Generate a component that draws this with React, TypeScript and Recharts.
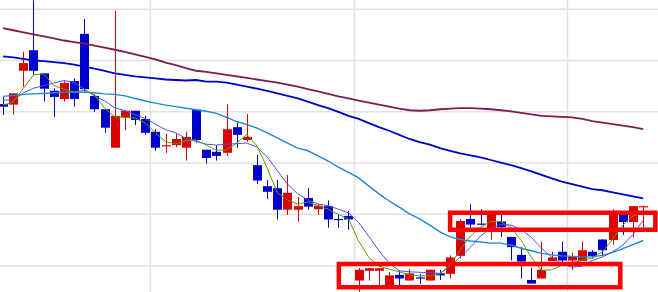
import React from 'react';
import { ComposedChart, Bar, Line, XAxis, YAxis, ReferenceLine, ReferenceArea } from 'recharts';

// 64 trading sessions
const days = [
  'd01','d02','d03','d04','d05','d06','d07','d08','d09','d10','d11','d12','d13','d14','d15','d16',
  'd17','d18','d19','d20','d21','d22','d23','d24','d25','d26','d27','d28','d29','d30','d31','d32',
  'd33','d34','d35','d36','d37','d38','d39','d40','d41','d42','d43','d44','d45','d46','d47','d48',
  'd49','d50','d51','d52','d53','d54','d55','d56','d57','d58','d59','d60','d61','d62','d63','d64',
];

const opens = [
  1815, 1814, 1880, 1920, 1875, 1841, 1825, 1860, 1952, 1831, 1805, 1730, 1789, 1802, 1786, 1761,
  1733, 1735, 1730, 1804, 1726, 1722, 1720, 1770, 1745, 1696, 1655, 1651, 1609, 1609, 1632, 1610,
  1616, 1591, 1597, 1471, 1490, 1490, 1459, 1482, 1471, 1477, 1471, 1485, 1484, 1519, 1591, 1582,
  1571, 1586, 1556, 1521, 1472, 1475, 1509, 1527, 1510, 1509, 1527, 1551, 1550, 1601, 1585, 1614,
];
const highs = [
  1829, 1836, 1917, 2017, 1875, 1846, 1860, 1865, 1981, 1834, 1805, 1997, 1803, 1802, 1792, 1766,
  1757, 1757, 1761, 1804, 1726, 1735, 1815, 1779, 1796, 1716, 1667, 1667, 1677, 1634, 1651, 1620,
  1627, 1599, 1607, 1495, 1495, 1495, 1488, 1490, 1493, 1484, 1492, 1492, 1520, 1591, 1620, 1610,
  1601, 1602, 1556, 1536, 1496, 1547, 1527, 1547, 1525, 1547, 1530, 1551, 1610, 1601, 1616, 1616,
];
const lows = [
  1794, 1794, 1849, 1872, 1820, 1790, 1820, 1810, 1839, 1800, 1759, 1730, 1764, 1774, 1755, 1724,
  1720, 1731, 1705, 1740, 1699, 1705, 1714, 1730, 1742, 1659, 1630, 1590, 1599, 1586, 1609, 1599,
  1574, 1574, 1570, 1449, 1471, 1460, 1459, 1460, 1471, 1464, 1471, 1472, 1475, 1514, 1574, 1579,
  1551, 1556, 1510, 1475, 1465, 1475, 1509, 1502, 1492, 1509, 1514, 1521, 1541, 1560, 1555, 1574,
];
const closes = [
  1810, 1836, 1895, 1880, 1845, 1829, 1856, 1825, 1844, 1805, 1769, 1792, 1802, 1784, 1759, 1730,
  1735, 1747, 1751, 1745, 1710, 1714, 1766, 1755, 1751, 1666, 1644, 1609, 1642, 1616, 1615, 1617,
  1590, 1589, 1590, 1492, 1495, 1495, 1481, 1475, 1485, 1475, 1492, 1481, 1516, 1587, 1580, 1580,
  1601, 1575, 1536, 1508, 1465, 1492, 1516, 1510, 1517, 1530, 1519, 1530, 1601, 1585, 1616, 1616,
];

// moving averages (short to long)
const ma5 = [
  1813, 1819, 1846, 1872, 1874, 1851, 1844, 1839, 1842, 1833, 1807, 1790, 1789, 1788, 1778, 1759,
  1742, 1737, 1744, 1745, 1735, 1725, 1726, 1739, 1756, 1733, 1690, 1642, 1628, 1620, 1624, 1617,
  1610, 1600, 1591, 1548, 1516, 1499, 1493, 1488, 1482, 1480, 1480, 1484, 1501, 1531, 1558, 1575,
  1586, 1586, 1574, 1549, 1516, 1490, 1492, 1501, 1506, 1510, 1515, 1527, 1552, 1579, 1597, 1603,
];
const ma10 = [
  1823, 1823, 1837, 1846, 1851, 1856, 1861, 1857, 1844, 1831, 1821, 1808, 1802, 1794, 1787, 1776,
  1765, 1759, 1748, 1742, 1737, 1735, 1737, 1738, 1739, 1731, 1712, 1685, 1659, 1640, 1628, 1620,
  1617, 1610, 1603, 1584, 1557, 1529, 1505, 1490, 1488, 1487, 1486, 1485, 1499, 1517, 1536, 1558,
  1573, 1581, 1579, 1570, 1555, 1534, 1516, 1503, 1497, 1499, 1510, 1517, 1527, 1540, 1561, 1588,
];
const ma25 = [
  1830, 1832, 1834, 1835, 1836, 1837, 1838, 1838, 1838, 1837, 1835, 1834, 1831, 1826, 1821, 1817,
  1813, 1810, 1807, 1804, 1801, 1797, 1789, 1781, 1775, 1768, 1759, 1749, 1739, 1729, 1724, 1714,
  1704, 1692, 1682, 1671, 1655, 1640, 1626, 1614, 1601, 1591, 1579, 1566, 1556, 1551, 1548, 1546,
  1544, 1544, 1540, 1534, 1529, 1524, 1521, 1519, 1518, 1517, 1517, 1520, 1526, 1533, 1541, 1549,
];
const ma75 = [
  1908, 1906, 1903, 1900, 1899, 1897, 1895, 1892, 1888, 1884, 1880, 1875, 1872, 1869, 1867, 1865,
  1863, 1862, 1861, 1862, 1859, 1859, 1857, 1853, 1849, 1845, 1841, 1836, 1831, 1826, 1820, 1813,
  1807, 1800, 1792, 1786, 1778, 1770, 1763, 1755, 1747, 1741, 1736, 1729, 1724, 1719, 1715, 1711,
  1706, 1701, 1696, 1690, 1684, 1677, 1670, 1664, 1659, 1654, 1649, 1647, 1643, 1639, 1635, 1631,
];
const ma200 = [
  1963, 1959, 1955, 1951, 1947, 1943, 1939, 1936, 1933, 1929, 1925, 1921, 1917, 1912, 1907, 1902,
  1896, 1891, 1885, 1880, 1878, 1875, 1872, 1869, 1866, 1863, 1860, 1857, 1853, 1849, 1844, 1840,
  1835, 1830, 1826, 1822, 1818, 1814, 1810, 1806, 1803, 1802, 1803, 1805, 1806, 1807, 1807, 1806,
  1805, 1803, 1801, 1798, 1795, 1792, 1791, 1790, 1789, 1786, 1782, 1779, 1776, 1773, 1770, 1766,
];

// horizontal grid prices and month separators (in session-index units)
const gridPrices = [2000, 1900, 1800, 1700, 1600, 1500];
const monthBreaks = [14.5, 34.6, 55.55];

// highlighted ranges: from index, to index, low price, high price
const boxFrom = [33.05, 44.0];
const boxTo = [60.75, 64.2];
const boxLow = [1458, 1570];
const boxHigh = [1503, 1603];

const RED = '#dd0000';
const BLUE = '#0000cc';

const data = days.map((day, i) => ({
  day,
  idx: i,
  range: [lows[i], highs[i]],
  open: opens[i],
  high: highs[i],
  low: lows[i],
  close: closes[i],
  ma5: ma5[i],
  ma10: ma10[i],
  ma25: ma25[i],
  ma75: ma75[i],
  ma200: ma200[i],
}));

const Candle = (props: any) => {
  const { x, y, width, height, payload } = props;
  if (!payload || x == null || y == null) return null;
  const { open, close, high, low } = payload;
  const h = Math.abs(height);
  const top0 = Math.min(y, y + height);
  const ppu = high === low ? 0 : h / (high - low);
  const yOf = (v: number) => top0 + (high - v) * ppu;
  const up = close >= open;
  const color = up ? RED : BLUE;
  const cx = Math.round(x + width / 2);
  const bTop = yOf(Math.max(open, close));
  const bBot = yOf(Math.min(open, close));
  const bh = Math.max(1.2, bBot - bTop);
  return (
    <g>
      <line x1={cx + 0.5} x2={cx + 0.5} y1={top0} y2={top0 + h} stroke={color} strokeWidth={1} />
      <rect x={cx - 4} y={bTop} width={9} height={bh} fill={color} />
    </g>
  );
};

const lineCommon = {
  xAxisId: 'cat',
  dot: false,
  activeDot: false,
  isAnimationActive: false,
  type: 'linear' as const,
};

export default function App() {
  return (
    <div style={{ position: 'absolute', left: -2, top: 0, width: 660, height: 292, background: '#fff' }}>
      <ComposedChart
        width={660}
        height={292}
        data={data}
        margin={{ top: 0, right: 0, bottom: 0, left: 0 }}
        barCategoryGap={0}
      >
        <XAxis xAxisId="cat" dataKey="day" type="category" hide padding={{ left: 0, right: 9.76 }} />
        <XAxis xAxisId="num" dataKey="idx" type="number" hide domain={[-0.5, 64.46]} allowDataOverflow />
        <YAxis type="number" hide domain={[1448.6, 2018]} allowDataOverflow />
        {gridPrices.map((p) => (
          <ReferenceLine key={'h' + p} xAxisId="num" y={p} stroke="#e2e2e2" strokeWidth={1.5} zIndex={-50} />
        ))}
        {monthBreaks.map((m) => (
          <ReferenceLine key={'v' + m} xAxisId="num" x={m} stroke="#e2e2e2" strokeWidth={1.5} zIndex={-50} />
        ))}
        <Bar xAxisId="cat" dataKey="range" shape={Candle} activeBar={false} isAnimationActive={false} />
        <Line {...lineCommon} dataKey="ma200" stroke="#7b1d4d" strokeWidth={1.8} />
        <Line {...lineCommon} dataKey="ma75" stroke="#0000c8" strokeWidth={1.8} />
        <Line {...lineCommon} dataKey="ma25" stroke="#1a8ad4" strokeWidth={1.4} />
        <Line {...lineCommon} dataKey="ma10" stroke="#4f4fff" strokeWidth={1} />
        <Line {...lineCommon} dataKey="ma5" stroke="#5c9e00" strokeWidth={1} />
        {boxFrom.map((f, k) => (
          <ReferenceArea
            key={'box' + k}
            xAxisId="num"
            x1={f}
            x2={boxTo[k]}
            y1={boxLow[k]}
            y2={boxHigh[k]}
            fill="none"
            fillOpacity={0}
            stroke="#ff0000"
            strokeWidth={4.5}
            ifOverflow="visible"
            zIndex={1000}
          />
        ))}
      </ComposedChart>
    </div>
  );
}
